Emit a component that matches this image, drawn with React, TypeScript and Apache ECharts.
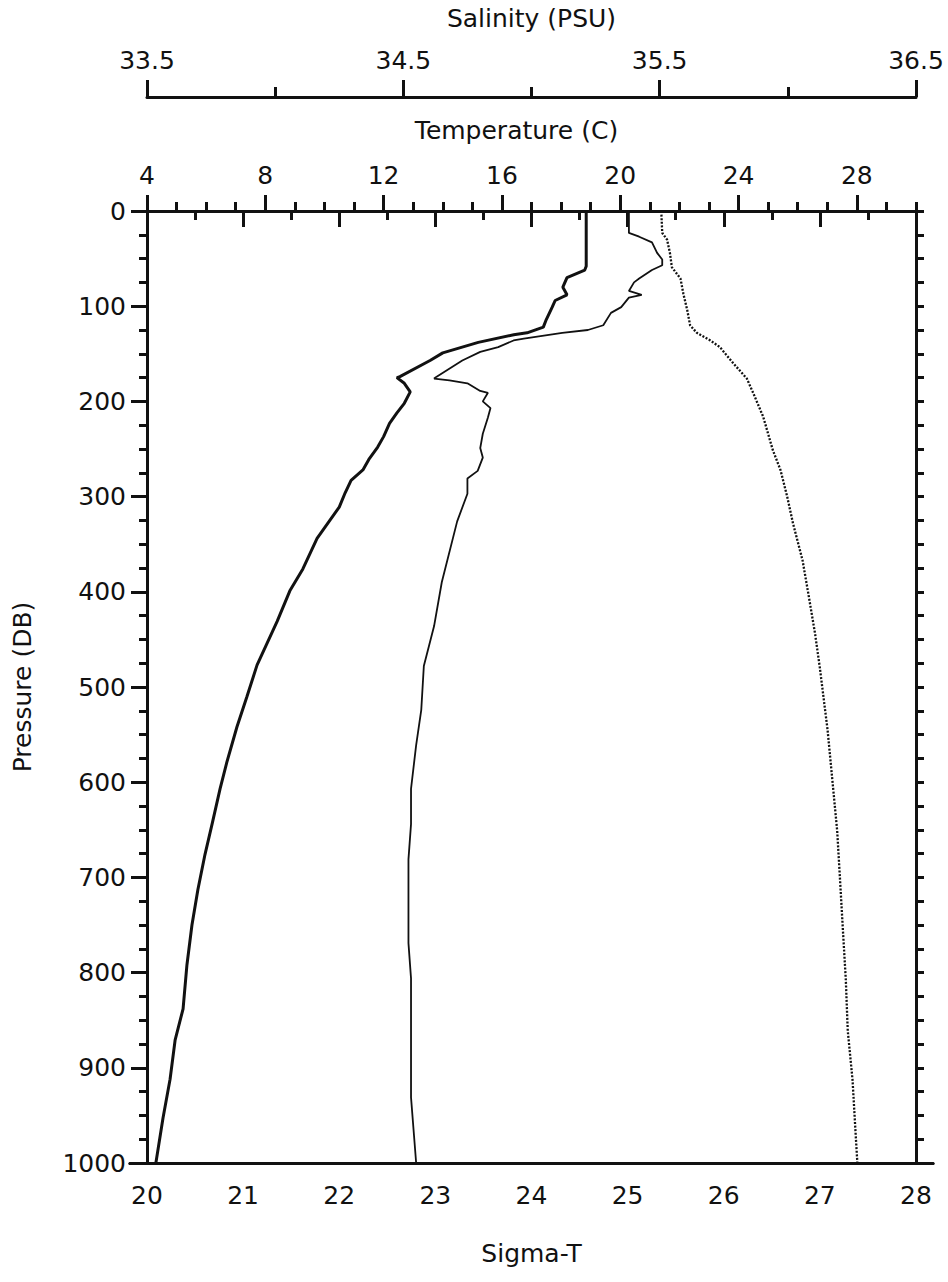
import React, { useEffect, useRef } from "react";
import * as echarts from "echarts";

// ---- Data ----
const tempPressure = [0, 58, 62, 70, 80, 88, 94, 101, 114, 122, 128, 130, 138, 149, 157, 174, 175, 181, 190, 202, 212, 223, 237, 248, 261, 272, 283, 296, 311, 344, 376, 399, 431, 477, 510, 542, 579, 607, 644, 676, 713, 750, 792, 838, 871, 912, 953, 1000];
const tempValues = [18.85, 18.85, 18.8, 18.2, 18.06, 18.2, 17.8, 17.7, 17.5, 17.4, 16.85, 16.4, 15.2, 14.0, 13.57, 12.55, 12.45, 12.7, 12.9, 12.7, 12.45, 12.2, 12.0, 11.8, 11.5, 11.3, 10.9, 10.7, 10.5, 9.75, 9.27, 8.83, 8.4, 7.72, 7.38, 7.04, 6.7, 6.47, 6.2, 5.96, 5.72, 5.52, 5.35, 5.22, 4.95, 4.78, 4.54, 4.3];

const salPressure = [0, 23, 27, 33, 44, 51, 57, 62, 71, 75, 84, 88, 91, 101, 107, 120, 125, 128, 134, 136, 143, 148, 157, 174, 176, 178, 181, 189, 191, 200, 207, 217, 234, 249, 259, 273, 281, 297, 326, 390, 436, 478, 524, 561, 607, 644, 681, 723, 769, 806, 861, 931, 1000];
const salValues = [35.38, 35.38, 35.42, 35.47, 35.49, 35.51, 35.51, 35.47, 35.42, 35.40, 35.38, 35.43, 35.38, 35.35, 35.31, 35.28, 35.22, 35.12, 34.97, 34.93, 34.87, 34.80, 34.73, 34.63, 34.62, 34.68, 34.75, 34.80, 34.83, 34.81, 34.84, 34.83, 34.81, 34.80, 34.81, 34.79, 34.75, 34.75, 34.71, 34.65, 34.62, 34.58, 34.57, 34.55, 34.53, 34.53, 34.52, 34.52, 34.52, 34.53, 34.53, 34.53, 34.55];

const sigPressure = [0, 23, 30, 44, 59, 71, 87, 104, 120, 128, 136, 143, 160, 176, 192, 216, 251, 272, 300, 328, 367, 402, 444, 480, 545, 598, 651, 703, 756, 808, 861, 913, 966, 1000];
const sigValues = [25.35, 25.36, 25.41, 25.44, 25.46, 25.55, 25.58, 25.62, 25.65, 25.72, 25.86, 25.96, 26.10, 26.24, 26.31, 26.41, 26.51, 26.59, 26.66, 26.72, 26.82, 26.88, 26.95, 27.00, 27.08, 27.13, 27.18, 27.21, 27.24, 27.27, 27.29, 27.34, 27.37, 27.39];

const salinityMajorTicks = [33.5, 34.5, 35.5, 36.5];

const FONT = "DejaVu Sans";
const INK = "#111";

export default function App() {
  const ref = useRef<HTMLDivElement>(null);

  useEffect(() => {
    if (!ref.current) return;
    const chart = echarts.init(ref.current, null, { renderer: "svg" });

    const lineStyle = { color: INK, width: 3 };
    const label = { color: INK, fontFamily: FONT, fontSize: 25 };
    const nameStyle = { color: INK, fontFamily: FONT, fontSize: 25 };
    const bare = {
      axisTick: { show: false },
      axisLabel: { show: false },
      splitLine: { show: false },
    };

    const option: any = {
      animation: false,
      backgroundColor: "#fff",
      grid: [
        { left: 147, top: 211, right: 32, bottom: 119, show: false },
        // wider frame: only used to let the top and bottom axis lines run past the corners
        { left: 130, top: 211, right: 15, bottom: 119, show: false },
      ],
      xAxis: [
        {
          // Sigma-T (bottom)
          type: "value", gridIndex: 0, position: "bottom", min: 20, max: 28, interval: 1,
          name: "Sigma-T", nameLocation: "middle", nameGap: 78, nameTextStyle: nameStyle,
          axisLine: { show: true, lineStyle },
          axisTick: { show: true, inside: false, length: 16, lineStyle },
          minorTick: { show: true, splitNumber: 2, length: 9, lineStyle },
          axisLabel: { ...label, margin: 20 },
          splitLine: { show: false },
        },
        {
          // Temperature (top) major
          type: "value", gridIndex: 0, position: "top", min: 4, max: 30, interval: 4,
          name: "Temperature (C)", nameLocation: "middle", nameGap: 68,
          nameTextStyle: { ...nameStyle, padding: [0, 30, 0, 0] },
          axisLine: { show: true, lineStyle },
          axisTick: { show: true, inside: false, length: 16, lineStyle },
          axisLabel: { ...label, margin: 23, showMaxLabel: false },
          splitLine: { show: false },
        },
        {
          // Temperature minor ticks
          type: "value", gridIndex: 0, position: "top", min: 4, max: 30, interval: 1,
          axisLine: { show: false },
          axisTick: { show: true, inside: false, length: 9, lineStyle },
          axisLabel: { show: false },
          splitLine: { show: false },
        },
        {
          // Salinity (detached top axis) major
          type: "value", gridIndex: 0, position: "top", offset: 114, min: 33.5, max: 36.5,
          name: "Salinity (PSU)", nameLocation: "middle", nameGap: 66, nameTextStyle: nameStyle,
          axisLine: { show: true, lineStyle },
          axisTick: { show: true, inside: false, length: 17, lineStyle, customValues: salinityMajorTicks },
          axisLabel: { ...label, margin: 24, customValues: salinityMajorTicks, formatter: (v: number) => v.toFixed(1) },
          splitLine: { show: false },
        },
        {
          // Salinity minor ticks
          type: "value", gridIndex: 0, position: "top", offset: 114, min: 33.5, max: 36.5, interval: 0.5,
          axisLine: { show: false },
          axisTick: { show: true, inside: false, length: 10, lineStyle },
          axisLabel: { show: false },
          splitLine: { show: false },
        },
        { type: "value", gridIndex: 1, position: "top", min: 0, max: 1, axisLine: { show: true, lineStyle }, ...bare },
        { type: "value", gridIndex: 1, position: "bottom", min: 0, max: 1, axisLine: { show: true, lineStyle }, ...bare },
      ],
      yAxis: [
        {
          type: "value", gridIndex: 0, position: "left", inverse: true, min: 0, max: 1000, interval: 100,
          name: "Pressure (DB)", nameLocation: "middle", nameGap: 112, nameRotate: 90, nameTextStyle: nameStyle,
          axisLine: { show: true, lineStyle },
          axisTick: { show: true, inside: false, length: 16, lineStyle },
          minorTick: { show: true, splitNumber: 4, length: 8, lineStyle },
          axisLabel: { ...label, margin: 21, formatter: (v: number) => String(v) },
          splitLine: { show: false },
        },
        {
          type: "value", gridIndex: 0, position: "right", inverse: true, min: 0, max: 1000, interval: 25,
          axisLine: { show: true, lineStyle },
          axisTick: { show: true, inside: false, length: 8, lineStyle },
          axisLabel: { show: false },
          splitLine: { show: false },
        },
        { type: "value", gridIndex: 1, min: 0, max: 1, show: false },
      ],
      series: [
        {
          name: "Temperature", type: "line", xAxisIndex: 1, yAxisIndex: 0,
          showSymbol: false, symbol: "none",
          lineStyle: { color: INK, width: 3 },
          data: tempValues.map((t, i) => [t, tempPressure[i]]),
        },
        {
          name: "Salinity", type: "line", xAxisIndex: 3, yAxisIndex: 0,
          showSymbol: false, symbol: "none",
          lineStyle: { color: INK, width: 1.8 },
          data: salValues.map((s, i) => [s, salPressure[i]]),
        },
        {
          name: "Sigma-T", type: "line", xAxisIndex: 0, yAxisIndex: 0,
          showSymbol: false, symbol: "none",
          lineStyle: { color: INK, width: 2.3, type: [2, 1.6] },
          data: sigValues.map((s, i) => [s, sigPressure[i]]),
        },
      ],
    };

    chart.setOption(option);
    return () => chart.dispose();
  }, []);

  return (
    <div
      ref={ref}
      style={{ position: "absolute", left: 0, top: 0, width: 948, height: 1282, background: "#fff" }}
    />
  );
}
